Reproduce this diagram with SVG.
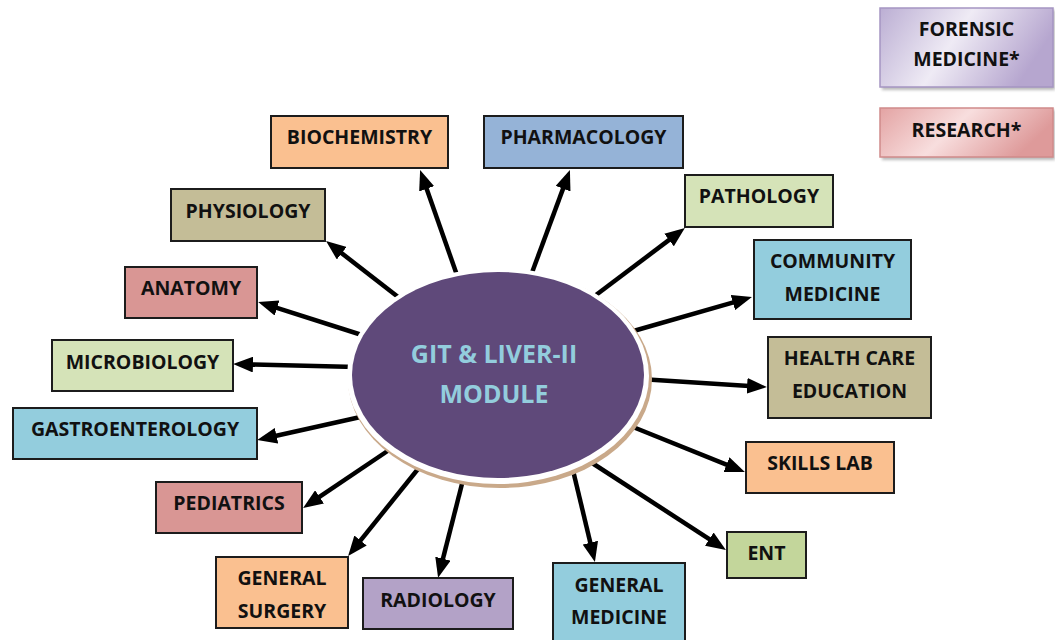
<svg xmlns="http://www.w3.org/2000/svg" width="1055" height="640" viewBox="0 0 1055 640">
  <style>
    .box { stroke: #1c1c1c; stroke-width: 2; }
    .lbl { font-family: "Open Sans", "Liberation Sans", sans-serif; font-weight: bold; font-size: 19.5px; fill: #111; text-anchor: middle; }
    .hub { font-family: "Open Sans", "Liberation Sans", sans-serif; font-weight: bold; font-size: 25px; fill: #93CDDD; text-anchor: middle; }
    .arrow { stroke: #000; stroke-width: 4.5; fill: none; marker-end: url(#head); }
  </style>
  <defs>
    <marker id="head" viewBox="0 0 10 8" refX="3" refY="4" markerWidth="4.4" markerHeight="3.52" orient="auto">
      <path d="M0,0 L10,4 L0,8 z" fill="#000"/>
    </marker>
    <linearGradient id="gForensic" x1="0" y1="0" x2="1" y2="0.3">
      <stop offset="0" stop-color="#BBAED3"/>
      <stop offset="0.5" stop-color="#EFEBF5"/>
      <stop offset="1" stop-color="#B6A6CF"/>
    </linearGradient>
    <linearGradient id="gResearch" x1="0" y1="0" x2="1" y2="0.3">
      <stop offset="0" stop-color="#E3A3A3"/>
      <stop offset="0.5" stop-color="#F8DEDE"/>
      <stop offset="1" stop-color="#DE9A9A"/>
    </linearGradient>
    <filter id="soft" x="-10%" y="-10%" width="130%" height="140%">
      <feGaussianBlur stdDeviation="1.5"/>
    </filter>
  </defs>

  <rect width="1055" height="640" fill="#fff"/>

  <!-- spokes from the module hub to each discipline -->
  <g id="connectors">
    <line class="arrow" x1="458" y1="278" x2="424.7" y2="183.2"/>
    <line class="arrow" x1="530" y1="278" x2="565.1" y2="183.1"/>
    <line class="arrow" x1="592" y1="298" x2="673.8" y2="236.4"/>
    <line class="arrow" x1="630" y1="332" x2="738.6" y2="300.9"/>
    <line class="arrow" x1="640" y1="379" x2="753.0" y2="386.2"/>
    <line class="arrow" x1="628" y1="425" x2="732.0" y2="466.8"/>
    <line class="arrow" x1="586" y1="459" x2="714.3" y2="542.4"/>
    <line class="arrow" x1="571" y1="462" x2="591.7" y2="548.4"/>
    <line class="arrow" x1="464" y1="476" x2="441.5" y2="564.4"/>
    <line class="arrow" x1="422" y1="464" x2="356.8" y2="545.1"/>
    <line class="arrow" x1="392" y1="448" x2="314.6" y2="500.2"/>
    <line class="arrow" x1="365" y1="416" x2="270.7" y2="437.0"/>
    <line class="arrow" x1="356" y1="367" x2="247.0" y2="364.4"/>
    <line class="arrow" x1="365" y1="336" x2="271.4" y2="306.2"/>
    <line class="arrow" x1="402" y1="300" x2="337.0" y2="249.6"/>
  </g>

  <!-- central module -->
  <g id="hub">
    <ellipse cx="500" cy="379" rx="152" ry="109" fill="#C9A98A"/>
    <ellipse cx="498" cy="376" rx="151" ry="108" fill="#fff"/>
    <ellipse cx="498" cy="375" rx="146" ry="103" fill="#5F497A"/>
    <text class="hub" x="494" y="363">GIT &amp; LIVER-II</text>
    <text class="hub" x="494" y="403">MODULE</text>
  </g>

  <g id="biochemistry">
    <rect class="box" x="271" y="116" width="177" height="52" fill="#FAC090"/>
    <text class="lbl" x="359.5" y="144">BIOCHEMISTRY</text>
  </g>
  <g id="pharmacology">
    <rect class="box" x="484" y="116" width="199" height="52" fill="#95B3D7"/>
    <text class="lbl" x="583.5" y="144">PHARMACOLOGY</text>
  </g>
  <g id="pathology">
    <rect class="box" x="685" y="175" width="148" height="52" fill="#D5E3B8"/>
    <text class="lbl" x="759" y="203">PATHOLOGY</text>
  </g>
  <g id="physiology">
    <rect class="box" x="171" y="189" width="154" height="52" fill="#C4BD97"/>
    <text class="lbl" x="248" y="218">PHYSIOLOGY</text>
  </g>
  <g id="anatomy">
    <rect class="box" x="125" y="267" width="132" height="51" fill="#D99694"/>
    <text class="lbl" x="191" y="295">ANATOMY</text>
  </g>
  <g id="microbiology">
    <rect class="box" x="52" y="340" width="181" height="51" fill="#D5E3B8"/>
    <text class="lbl" x="142.5" y="369">MICROBIOLOGY</text>
  </g>
  <g id="gastroenterology">
    <rect class="box" x="13" y="408" width="244" height="51" fill="#93CDDD"/>
    <text class="lbl" x="135" y="436">GASTROENTEROLOGY</text>
  </g>
  <g id="pediatrics">
    <rect class="box" x="156" y="482" width="146" height="51" fill="#D99694"/>
    <text class="lbl" x="229" y="510">PEDIATRICS</text>
  </g>
  <g id="general-surgery">
    <rect class="box" x="216" y="557" width="132" height="71" fill="#FAC090"/>
    <text class="lbl" x="282" y="585">GENERAL</text>
    <text class="lbl" x="282" y="618">SURGERY</text>
  </g>
  <g id="radiology">
    <rect class="box" x="363" y="578" width="150" height="51" fill="#B3A2C7"/>
    <text class="lbl" x="438" y="607">RADIOLOGY</text>
  </g>
  <g id="general-medicine">
    <rect class="box" x="553" y="563" width="132" height="82" fill="#93CDDD"/>
    <text class="lbl" x="619" y="592">GENERAL</text>
    <text class="lbl" x="619" y="624">MEDICINE</text>
  </g>
  <g id="community-medicine">
    <rect class="box" x="754" y="240" width="157" height="79" fill="#93CDDD"/>
    <text class="lbl" x="832.5" y="268">COMMUNITY</text>
    <text class="lbl" x="832.5" y="301">MEDICINE</text>
  </g>
  <g id="health-care-education">
    <rect class="box" x="768" y="337" width="163" height="81" fill="#C4BD97"/>
    <text class="lbl" x="849.5" y="365">HEALTH CARE</text>
    <text class="lbl" x="849.5" y="398">EDUCATION</text>
  </g>
  <g id="skills-lab">
    <rect class="box" x="746" y="442" width="148" height="51" fill="#FAC090"/>
    <text class="lbl" x="820" y="470">SKILLS LAB</text>
  </g>
  <g id="ent">
    <rect class="box" x="727" y="532" width="79" height="46" fill="#C3D69B"/>
    <text class="lbl" x="766.5" y="560">ENT</text>
  </g>

  <g id="forensic-medicine">
    <rect x="882" y="10" width="173" height="80" fill="#8C8C8C" opacity="0.6" filter="url(#soft)"/>
    <rect x="880" y="8" width="173" height="79" fill="url(#gForensic)" stroke="#A595C2" stroke-width="1.5"/>
    <text class="lbl" x="966.5" y="36">FORENSIC</text>
    <text class="lbl" x="966.5" y="66">MEDICINE*</text>
  </g>
  <g id="research">
    <rect x="882" y="110" width="173" height="50" fill="#8C8C8C" opacity="0.6" filter="url(#soft)"/>
    <rect x="880" y="108" width="173" height="49" fill="url(#gResearch)" stroke="#D08A8A" stroke-width="1.5"/>
    <text class="lbl" x="966.5" y="137">RESEARCH*</text>
  </g>
</svg>
